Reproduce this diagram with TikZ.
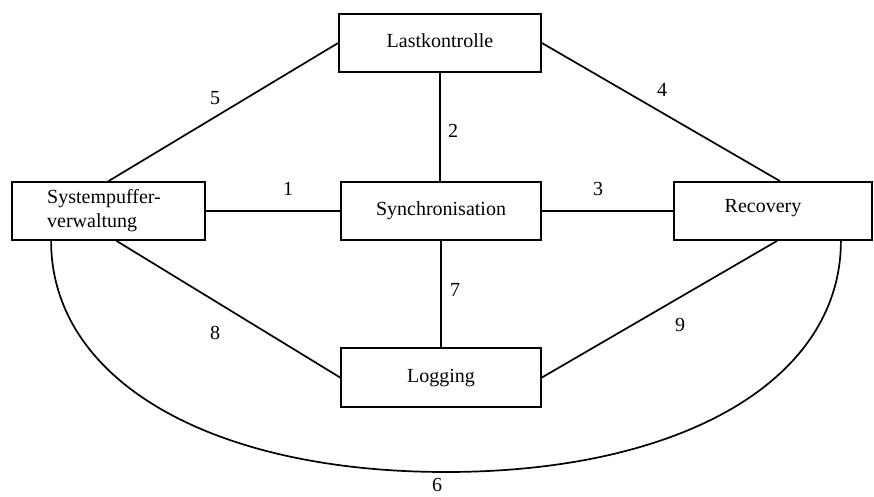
\documentclass[tikz,border=0pt]{standalone}
\usepackage{fontspec}
\setmainfont{Liberation Serif}
\usetikzlibrary{calc}
\begin{document}
\begin{tikzpicture}[x=1pt,y=-1pt,
  box/.style={draw, line width=1.8pt, rectangle, inner sep=0pt, text height=14pt, text depth=5pt, font=\fontsize{20}{24}\selectfont},
  conn/.style={line width=1.7pt},
  txt/.style={inner sep=0pt, font=\fontsize{20}{24}\selectfont},
  lbl/.style={inner sep=0pt, font=\fontsize{20}{24}\selectfont}]
\useasboundingbox (0,0) rectangle (874,497);
% boxes
\node[box, minimum width=202pt, minimum height=58pt] (last) at (440,43) {Lastkontrolle};
\node[box, minimum width=193pt, minimum height=58pt] (sys) at (108.5,211) {};
\node[txt, anchor=west, align=left] (systext) at (47,211) {Systempuffer-\\verwaltung};
\node[box, minimum width=200pt, minimum height=58pt] (sync) at (441,211) {Synchronisation};
\node[box, minimum width=198pt, minimum height=58pt] (rec) at (773,211) {};
\node[txt] (rectext) at (763,208) {Recovery};
\node[box, minimum width=200pt, minimum height=59pt] (log) at (441,377.5) {Logging};
% connectors
\draw[conn] (last.west) -- (sys.north);
\draw[conn] (last.east) -- ([xshift=7pt]rec.north);
\draw[conn] (last.south) -- (last.south |- sync.north);
\draw[conn] (sys.east) -- (sys.east -| sync.west);
\draw[conn] (sync.east) -- (sync.east -| rec.west);
\draw[conn] (sync.south) -- (log.north);
\draw[conn] ([xshift=8pt]sys.south) -- (log.west);
\draw[conn] ([xshift=4pt]rec.south) -- (log.east);
\coordinate (c6a) at ($(sys.south west)+(40,0)$);
\coordinate (c6b) at ($(rec.south east)+(-32,0)$);
\coordinate (c6m) at (446,472);
\draw[conn] (c6a) .. controls ($(c6a)+(0,139)$) and ($(c6m)+(-236,0)$) .. (c6m)
  .. controls ($(c6m)+(236,0)$) and ($(c6b)+(0,139)$) .. (c6b);
% labels
\node[lbl] (l5) at (215,98) {5};
\node[lbl] (l4) at (662,90) {4};
\node[lbl] (l2) at (453,131) {2};
\node[lbl] (l1) at (288,189) {1};
\node[lbl] (l3) at (598,189) {3};
\node[lbl] (l7) at (455,290) {7};
\node[lbl] (l8) at (215,333) {8};
\node[lbl] (l9) at (680,325) {9};
\node[lbl] (l6) at (437,485) {6};
\end{tikzpicture}
\end{document}
